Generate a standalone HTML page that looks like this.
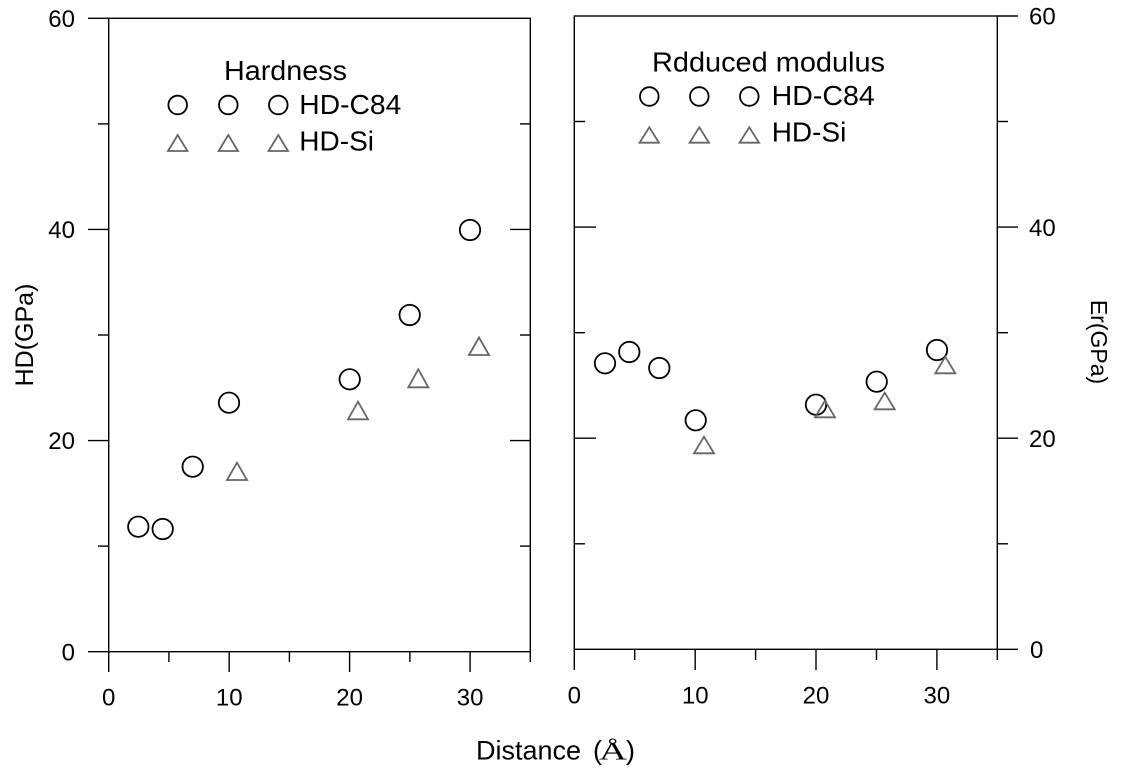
<!DOCTYPE html>
<html><head><meta charset="utf-8"><style>
html,body{margin:0;padding:0;background:#fff;}
svg{display:block;}
text{font-family:"Liberation Sans",Arial,sans-serif;fill:#000;}
</style></head><body>
<svg width="1123" height="772" viewBox="0 0 1123 772" xmlns="http://www.w3.org/2000/svg">
<g stroke="#000" stroke-width="1.4" fill="none">
<rect x="108.7" y="18.3" width="421.6" height="633.4"/>
<line x1="88" y1="18.3" x2="108.7" y2="18.3"/>
<line x1="98" y1="123.9" x2="108.7" y2="123.9"/>
<line x1="88" y1="229.4" x2="108.7" y2="229.4"/>
<line x1="98" y1="335" x2="108.7" y2="335"/>
<line x1="88" y1="440.6" x2="108.7" y2="440.6"/>
<line x1="98" y1="546.1" x2="108.7" y2="546.1"/>
<line x1="88" y1="651.7" x2="108.7" y2="651.7"/>
<line x1="520" y1="123.9" x2="530.3" y2="123.9"/>
<line x1="510" y1="229.4" x2="530.3" y2="229.4"/>
<line x1="520" y1="335" x2="530.3" y2="335"/>
<line x1="510" y1="440.6" x2="530.3" y2="440.6"/>
<line x1="520" y1="546.1" x2="530.3" y2="546.1"/>
<line x1="108.7" y1="651.7" x2="108.7" y2="672"/>
<line x1="168.9" y1="651.7" x2="168.9" y2="662"/>
<line x1="229.2" y1="651.7" x2="229.2" y2="672"/>
<line x1="289.4" y1="651.7" x2="289.4" y2="662"/>
<line x1="349.6" y1="651.7" x2="349.6" y2="672"/>
<line x1="409.9" y1="651.7" x2="409.9" y2="662"/>
<line x1="470.1" y1="651.7" x2="470.1" y2="672"/>
<line x1="530.3" y1="651.7" x2="530.3" y2="662"/>

<rect x="574.3" y="16" width="423" height="633.3"/>
<line x1="997.3" y1="16" x2="1018" y2="16"/>
<line x1="997.3" y1="121.5" x2="1008" y2="121.5"/>
<line x1="997.3" y1="227.1" x2="1018" y2="227.1"/>
<line x1="997.3" y1="332.7" x2="1008" y2="332.7"/>
<line x1="997.3" y1="438.2" x2="1018" y2="438.2"/>
<line x1="997.3" y1="543.8" x2="1008" y2="543.8"/>
<line x1="997.3" y1="649.3" x2="1018" y2="649.3"/>
<line x1="574.3" y1="121.5" x2="585" y2="121.5"/>
<line x1="574.3" y1="227.1" x2="596" y2="227.1"/>
<line x1="574.3" y1="332.7" x2="585" y2="332.7"/>
<line x1="574.3" y1="438.2" x2="596" y2="438.2"/>
<line x1="574.3" y1="543.8" x2="585" y2="543.8"/>
<line x1="574.3" y1="649.3" x2="574.3" y2="670"/>
<line x1="634.7" y1="649.3" x2="634.7" y2="660"/>
<line x1="695.2" y1="649.3" x2="695.2" y2="670"/>
<line x1="755.6" y1="649.3" x2="755.6" y2="660"/>
<line x1="816" y1="649.3" x2="816" y2="670"/>
<line x1="876.5" y1="649.3" x2="876.5" y2="660"/>
<line x1="936.9" y1="649.3" x2="936.9" y2="670"/>
<line x1="997.3" y1="649.3" x2="997.3" y2="660"/>
</g>

<g font-size="24" text-anchor="end">
<text x="75" y="27">60</text>
<text x="75" y="238">40</text>
<text x="75" y="449">20</text>
<text x="75" y="660.5">0</text>
</g>
<g font-size="24" text-anchor="middle">
<text x="108.7" y="705.5">0</text>
<text x="229.2" y="705.5">10</text>
<text x="349.6" y="705.5">20</text>
<text x="470.1" y="705.5">30</text>
<text x="574.3" y="703.5">0</text>
<text x="695.2" y="703.5">10</text>
<text x="816" y="703.5">20</text>
<text x="936.9" y="703.5">30</text>
</g>
<g font-size="24" text-anchor="start">
<text x="1029" y="24.7">60</text>
<text x="1029" y="235.8">40</text>
<text x="1029" y="447">20</text>
<text x="1030" y="658">0</text>
</g>

<text transform="translate(33,335) rotate(-90)" font-size="25" text-anchor="middle">HD(GPa)</text>
<text transform="translate(1091,342) rotate(90)" font-size="23" text-anchor="middle">Er(GPa)</text>
<text x="476" y="759.3" font-size="27">Distance</text>
<text x="593" y="759.3" font-size="27">(</text>
<text x="599" y="759.3" font-size="25" textLength="28" lengthAdjust="spacingAndGlyphs" style="font-family:'Liberation Serif','Times New Roman',serif">Å</text>
<text x="626" y="759.3" font-size="27">)</text>

<text x="224" y="80" font-size="28" textLength="123" lengthAdjust="spacingAndGlyphs">Hardness</text>
<text x="299.3" y="114" font-size="28" textLength="102" lengthAdjust="spacingAndGlyphs">HD-C84</text>
<text x="299.3" y="150.7" font-size="28">HD-Si</text>
<g stroke="#000" stroke-width="1.8" fill="none">
<circle cx="177.7" cy="105" r="9.3"/>
<circle cx="228.3" cy="105" r="9.3"/>
<circle cx="278.3" cy="105" r="9.3"/>
</g>
<g stroke="#666" stroke-width="1.8" fill="none">
<polygon points="177.7,135 168,151 187.4,151"/>
<polygon points="228.3,135 218.6,151 238,151"/>
<polygon points="278.3,135 268.6,151 288,151"/>
</g>

<text x="652" y="71.7" font-size="28" textLength="233" lengthAdjust="spacingAndGlyphs">Rdduced modulus</text>
<text x="771.7" y="105" font-size="28" textLength="103" lengthAdjust="spacingAndGlyphs">HD-C84</text>
<text x="771.7" y="141.7" font-size="28">HD-Si</text>
<g stroke="#000" stroke-width="1.8" fill="none">
<circle cx="649.3" cy="96.5" r="9.3"/>
<circle cx="699.3" cy="96.5" r="9.3"/>
<circle cx="749.3" cy="96.5" r="9.3"/>
</g>
<g stroke="#666" stroke-width="1.8" fill="none">
<polygon points="649.3,127.3 639.6,142.7 659,142.7"/>
<polygon points="699.3,127.3 689.6,142.7 709,142.7"/>
<polygon points="749.3,127.3 739.6,142.7 759,142.7"/>
</g>

<g stroke="#000" stroke-width="1.8" fill="none">
<circle cx="138.3" cy="526.7" r="10.2"/>
<circle cx="162.7" cy="529" r="10.2"/>
<circle cx="192.7" cy="466.7" r="10.2"/>
<circle cx="229" cy="402.7" r="10.2"/>
<circle cx="349.7" cy="379.3" r="10.2"/>
<circle cx="409.7" cy="315" r="10.2"/>
<circle cx="470" cy="230" r="10.2"/>
</g>
<g stroke="#666" stroke-width="1.8" fill="none">
<polygon points="237,462.7 227,480 247,480"/>
<polygon points="358,401.7 348,419.3 368,419.3"/>
<polygon points="418.3,369.3 408.3,387.3 428.3,387.3"/>
<polygon points="479,337.5 469,355 489,355"/>
</g>

<g stroke="#000" stroke-width="1.8" fill="none">
<circle cx="605" cy="363.3" r="10.2"/>
<circle cx="629.3" cy="352" r="10.2"/>
<circle cx="659.3" cy="368" r="10.2"/>
<circle cx="695.7" cy="420.3" r="10.2"/>
<circle cx="816" cy="404.7" r="10.2"/>
<circle cx="876.7" cy="381.7" r="10.2"/>
<circle cx="937" cy="350" r="10.2"/>
</g>
<g stroke="#666" stroke-width="1.8" fill="none">
<polygon points="704,436.7 694,453.3 714,453.3"/>
<polygon points="825,400.7 815,417.3 835,417.3"/>
<polygon points="884.7,392.7 874.7,409.3 894.7,409.3"/>
<polygon points="945.3,356.7 935.3,373.3 955.3,373.3"/>
</g>
</svg>
</body></html>
